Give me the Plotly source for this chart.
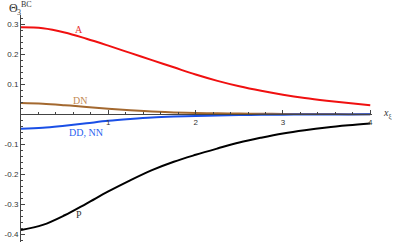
import plotly.graph_objects as go

x_vals = [0, 0.25, 0.5, 0.75, 1.0, 1.25, 1.5, 1.75, 2.0, 2.25, 2.5, 2.75, 3.0, 3.25, 3.5, 3.75, 4.0]
A_vals = [0.289, 0.286, 0.272, 0.251, 0.228, 0.204, 0.180, 0.156, 0.132, 0.111, 0.093, 0.078, 0.065, 0.054, 0.045, 0.037, 0.030]
DN_vals = [0.037, 0.035, 0.030, 0.024, 0.018, 0.013, 0.009, 0.006, 0.004, 0.003, 0.002, 0.0015, 0.001, 0.0007, 0.0005, 0.0003, 0.0002]
DDNN_vals = [-0.048, -0.045, -0.038, -0.030, -0.022, -0.016, -0.011, -0.008, -0.006, -0.004, -0.003, -0.002, -0.0015, -0.001, -0.0008, -0.0006, -0.0004]
P_vals = [-0.385, -0.368, -0.336, -0.297, -0.257, -0.220, -0.186, -0.158, -0.135, -0.114, -0.094, -0.078, -0.064, -0.053, -0.044, -0.037, -0.031]

x_ticks = [1, 2, 3, 4]
y_ticks = [-0.4, -0.3, -0.2, -0.1, 0.1, 0.2, 0.3]
y_tick_text = ["-0.4", "-0.3", "-0.2", "-0.1", "0.1", "0.2", "0.3"]

series = [
    ("A", A_vals, "#f01010"),
    ("DN", DN_vals, "#a3682f"),
    ("DD, NN", DDNN_vals, "#1a4fe6"),
    ("P", P_vals, "#000000"),
]

labels = [
    ("A", 0.66, 0.282, "#e83030"),
    ("DN", 0.68, 0.047, "#c48a55"),
    ("DD, NN", 0.74, -0.061, "#2a5ff0"),
    ("P", 0.66, -0.332, "#333333"),
]

fig = go.Figure()
for name, vals, col in series:
    fig.add_trace(go.Scatter(x=x_vals, y=vals, mode="lines", name=name,
                             line=dict(color=col, width=2, shape="spline", smoothing=1.0),
                             showlegend=False, hoverinfo="skip"))

for txt, lx, ly, col in labels:
    fig.add_annotation(x=lx, y=ly, xref="x", yref="y", text=txt, showarrow=False,
                       font=dict(family="Liberation Serif", size=10, color=col))

y_lo, y_hi = -0.425, 0.33
x_pos = (-y_lo) / (y_hi - y_lo)
fig.update_layout(
    width=395, height=242,
    margin=dict(l=21, r=23, t=15, b=0),
    paper_bgcolor="white", plot_bgcolor="white",
    xaxis=dict(range=[0, 4.02], showgrid=False, zeroline=False,
               anchor="free", position=x_pos,
               showline=True, linecolor="#444", linewidth=1,
               tickmode="array", tickvals=x_ticks, ticks="inside", ticklen=4,
               tickcolor="#444",
               tickfont=dict(family="Liberation Sans", size=8, color="#333"),
               minor=dict(dtick=0.2, tick0=0, ticks="inside", ticklen=2, tickcolor="#444", showgrid=False)),
    yaxis=dict(range=[y_lo, y_hi], showgrid=False, zeroline=False,
               showline=True, linecolor="#444", linewidth=1,
               tickmode="array", tickvals=y_ticks, ticktext=y_tick_text,
               ticks="inside", ticklen=4, tickcolor="#444",
               tickfont=dict(family="Liberation Sans", size=8, color="#333"),
               minor=dict(dtick=0.02, tick0=0, ticks="inside", ticklen=2, tickcolor="#444", showgrid=False)),
)

# axis label x_xi at right end of the x axis
fig.add_annotation(x=1.0, y=x_pos, xref="paper", yref="paper", text="<i>x</i><sub>ξ</sub>",
                   showarrow=False, xanchor="left", yanchor="middle", xshift=9, yshift=1,
                   font=dict(family="Liberation Serif", size=10, color="#333"))

# y-axis label Theta_3^BC at top left
fig.add_annotation(x=0.0, y=1.0, xref="paper", yref="paper", text="Θ",
                   showarrow=False, xanchor="center", yanchor="middle", xshift=-8, yshift=7,
                   font=dict(family="Liberation Serif", size=12, color="#333"))
fig.add_annotation(x=0.0, y=1.0, xref="paper", yref="paper", text="3",
                   showarrow=False, xanchor="center", yanchor="middle", xshift=-2.5, yshift=3,
                   font=dict(family="Liberation Serif", size=8, color="#333"))
fig.add_annotation(x=0.0, y=1.0, xref="paper", yref="paper", text="BC",
                   showarrow=False, xanchor="center", yanchor="middle", xshift=5.5, yshift=11,
                   font=dict(family="Liberation Serif", size=8, color="#333"))

fig.write_html("out.html", config={"displayModeBar": False},
               post_script="document.body.style.margin='0';document.body.style.padding='0';")
